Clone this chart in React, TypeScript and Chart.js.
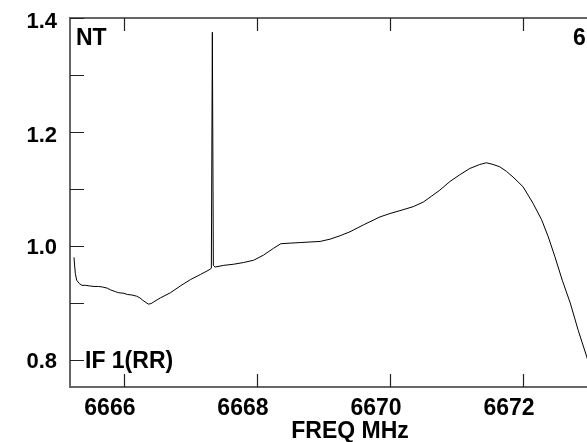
import React, { useEffect, useRef } from "react";
import { Chart, registerables } from "chart.js";

Chart.register(...registerables);

// Spectrum data (frequency in MHz, normalized intensity)
const freqs = [
  6665.25, 6665.26, 6665.27, 6665.29, 6665.33, 6665.37, 6665.42, 6665.48, 6665.55, 6665.62,
  6665.68, 6665.75, 6665.8, 6665.87, 6665.92, 6666.0, 6666.05, 6666.12, 6666.19, 6666.24,
  6666.28, 6666.33, 6666.37, 6666.41, 6666.45, 6666.55, 6666.7, 6666.85, 6667.0, 6667.15,
  6667.28, 6667.315, 6667.33, 6667.345, 6667.37, 6667.5, 6667.65, 6667.8, 6667.95, 6668.1,
  6668.25, 6668.36, 6668.5, 6668.65, 6668.8, 6668.95, 6669.1, 6669.25, 6669.4, 6669.6,
  6669.85, 6670.0, 6670.15, 6670.35, 6670.5, 6670.62, 6670.75, 6670.9, 6671.05, 6671.2,
  6671.35, 6671.45, 6671.55, 6671.65, 6671.75, 6671.85, 6672.0, 6672.15, 6672.28, 6672.38,
  6672.48, 6672.59, 6672.71, 6672.83, 6672.96, 6673.1,
];
const intensity = [
  0.98, 0.965, 0.952, 0.94, 0.934, 0.931, 0.931, 0.93, 0.929, 0.929,
  0.928, 0.926, 0.923, 0.92, 0.918, 0.917, 0.915, 0.914, 0.912, 0.909,
  0.905, 0.901, 0.898, 0.899, 0.902, 0.909, 0.918, 0.93, 0.941, 0.95,
  0.958, 0.961, 1.375, 0.966, 0.963, 0.966, 0.968, 0.971, 0.975, 0.984,
  0.996, 1.004, 1.005, 1.006, 1.007, 1.008, 1.012, 1.018, 1.025, 1.037,
  1.051, 1.057, 1.062, 1.069, 1.077, 1.087, 1.098, 1.113, 1.125, 1.136,
  1.143, 1.146, 1.143, 1.139, 1.131, 1.121, 1.104, 1.075, 1.046, 1.016,
  0.981, 0.94, 0.9, 0.852, 0.805, 0.75,
];

const xTicks = [6666, 6668, 6670, 6672];
const yMajorTicks = [0.8, 1.0, 1.2, 1.4];
const yMinorTicks = [0.9, 1.1, 1.3];
const xTitle = "FREQ MHz";
const cornerLeft = "NT";
const cornerRight = "6";
const ifLabel = "IF 1(RR)";

const X_MIN = 6665.19;
const X_MAX = 6672.962;
const Y_MIN = 0.7526;
const Y_MAX = 1.4;

const framePlugin = {
  id: "framePlugin",
  afterDraw(chart: any) {
    const { ctx, chartArea, scales } = chart;
    const { left, top, bottom, right } = chartArea;
    const xs = scales.x;
    const ys = scales.y;
    ctx.save();
    // frame
    ctx.strokeStyle = "#666";
    ctx.lineWidth = 2;
    ctx.beginPath();
    ctx.moveTo(right + 2, top);
    ctx.lineTo(left, top);
    ctx.lineTo(left, bottom);
    ctx.lineTo(right + 2, bottom);
    ctx.stroke();
    // ticks
    ctx.strokeStyle = "#222";
    ctx.lineWidth = 1.2;
    ctx.beginPath();
    [...yMajorTicks, ...yMinorTicks].forEach((v) => {
      const py = Math.round(ys.getPixelForValue(v)) + 0.5;
      ctx.moveTo(left, py);
      ctx.lineTo(left + 14, py);
    });
    xTicks.forEach((v) => {
      const px = Math.round(xs.getPixelForValue(v)) + 0.5;
      ctx.moveTo(px, bottom);
      ctx.lineTo(px, bottom - 13);
      ctx.moveTo(px, top);
      ctx.lineTo(px, top + 13);
    });
    ctx.stroke();
    // labels
    ctx.fillStyle = "#000";
    ctx.font = "bold 22px 'Liberation Sans', Arial, sans-serif";
    ctx.textAlign = "right";
    ctx.textBaseline = "middle";
    yMajorTicks.forEach((v) => {
      const py = ys.getPixelForValue(v);
      ctx.fillText(v.toFixed(1), 57, py + (v >= 1.2 ? 4 : 2));
    });
    ctx.font = "bold 23px 'Liberation Sans', Arial, sans-serif";
    ctx.textAlign = "center";
    ctx.textBaseline = "alphabetic";
    xTicks.forEach((v) => {
      const px = xs.getPixelForValue(v);
      ctx.fillText(String(v), px - 14, 415);
    });
    ctx.fillText(xTitle, 350, 438);
    ctx.textAlign = "left";
    ctx.fillText(cornerLeft, left + 6, 45);
    ctx.fillText(cornerRight, 573, 45);
    ctx.fillText(ifLabel, left + 15, ys.getPixelForValue(0.8) + 8);
    ctx.restore();
  },
};

export default function App() {
  const ref = useRef<HTMLCanvasElement | null>(null);
  useEffect(() => {
    if (!ref.current) return;
    const chart = new Chart(ref.current, {
      type: "line",
      data: {
        datasets: [
          {
            data: freqs.map((f, i) => ({ x: f, y: intensity[i] })),
            borderColor: "#000",
            borderWidth: 1,
            pointRadius: 0,
            tension: 0,
            fill: false,
          },
        ],
      },
      options: {
        animation: false,
        responsive: false,
        devicePixelRatio: 1,
        layout: { padding: { left: 70, top: 18, right: 0, bottom: 55 } },
        plugins: { legend: { display: false }, tooltip: { enabled: false } },
        scales: {
          x: { type: "linear", min: X_MIN, max: X_MAX, display: false },
          y: { type: "linear", min: Y_MIN, max: Y_MAX, display: false },
        },
      },
      plugins: [framePlugin],
    });
    return () => chart.destroy();
  }, []);
  return (
    <div style={{ position: "absolute", left: 0, top: 0, width: 587, height: 442, overflow: "hidden", background: "#fff" }}>
      <canvas ref={ref} width={587} height={442} style={{ display: "block" }} />
    </div>
  );
}
